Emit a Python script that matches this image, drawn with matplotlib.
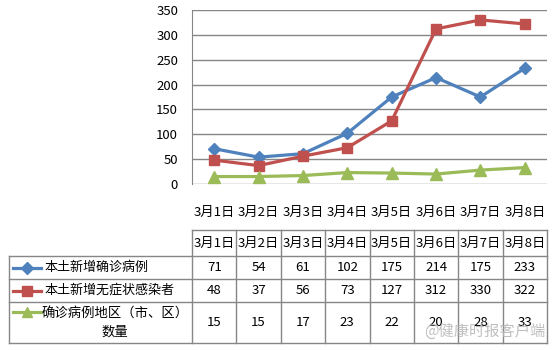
import matplotlib
matplotlib.use("Agg")
import matplotlib.pyplot as plt
from matplotlib.lines import Line2D

plt.rcParams['font.family'] = ['Noto Sans CJK SC', 'DejaVu Sans']

dates = ["3月1日", "3月2日", "3月3日", "3月4日", "3月5日", "3月6日", "3月7日", "3月8日"]
confirmed = [71, 54, 61, 102, 175, 214, 175, 233]
asymptomatic = [48, 37, 56, 73, 127, 312, 330, 322]
regions = [15, 15, 17, 23, 22, 20, 28, 33]
series_names = ["本土新增确诊病例", "本土新增无症状感染者", "确诊病例地区（市、区）\n数量"]

colors = ["#4F81BD", "#C0504D", "#9BBB59"]
markers = ["D", "s", "^"]
msizes = [6.5, 7.5, 8]
grid_c = "#868686"

W, H = 555, 350
fig = plt.figure(figsize=(W / 100, H / 100), dpi=100)

# plot area in pixels
x0, x1, y0, y1 = 192, 547, 10, 184
ax = fig.add_axes([x0 / W, 1 - y1 / H, (x1 - x0) / W, (y1 - y0) / H])
xs = range(len(dates))
for vals, c, m, ms in zip([confirmed, asymptomatic, regions], colors, markers, msizes):
    ax.plot(xs, vals, color=c, lw=2.3, marker=m, markersize=ms, zorder=3)
ax.set_xlim(-0.5, len(dates) - 0.5)
ax.set_ylim(0, 350)
ax.set_yticks(range(0, 351, 50))
ax.yaxis.grid(True, color=grid_c, lw=1)
ax.set_axisbelow(True)
ax.tick_params(axis="y", length=0, labelsize=9.5, pad=10)
ax.set_xticks(list(xs))
ax.set_xticklabels(dates, fontsize=9.5)
ax.tick_params(axis="x", length=0, pad=16)
for s in ["top", "right", "bottom"]:
    ax.spines[s].set_visible(False)
ax.spines["left"].set_color(grid_c)

# data table below the chart, drawn in pixel coordinates
tb = fig.add_axes([0, 0, 1, 1])
tb.set_xlim(0, W)
tb.set_ylim(H, 0)
tb.axis("off")
cw = (x1 - x0) / len(dates)
rows_y = [230, 256, 279, 302, 343]
tl = 9
lk = dict(color=grid_c, lw=1)
tb.plot([x0, x1], [rows_y[0]] * 2, **lk)
for yy in rows_y[1:]:
    tb.plot([tl, x1], [yy, yy], **lk)
tb.plot([tl, tl], [rows_y[1], rows_y[-1]], **lk)
for i in range(len(dates) + 1):
    xx = x0 + i * cw
    tb.plot([xx, xx], [rows_y[0], rows_y[-1]], **lk)
for i, d in enumerate(dates):
    tb.text(x0 + (i + 0.5) * cw, (rows_y[0] + rows_y[1]) / 2, d,
            ha="center", va="center", fontsize=9.5)

table_vals = [confirmed, asymptomatic, regions]
for r, (vals, name, c, m, ms) in enumerate(zip(table_vals, series_names, colors, markers, msizes)):
    ya, yb = rows_y[r + 1], rows_y[r + 2]
    ym = (ya + yb) / 2
    key_y = ym if r < 2 else ya + 10
    tb.add_line(Line2D([13, 41], [key_y, key_y], color=c, lw=2.3))
    tb.plot([27], [key_y], marker=m, color=c, markersize=ms - 0.5)
    if r < 2:
        tb.text(44, ym, name, ha="left", va="center", fontsize=9.4)
    else:
        tb.text(115, ym, name, ha="center", va="center", fontsize=9.6, linespacing=1.3)
    for i, v in enumerate(vals):
        tb.text(x0 + (i + 0.5) * cw, ym, str(v), ha="center", va="center", fontsize=9.5)

tb.text(545, 331, "@健康时报客户端", ha="right", va="center", fontsize=11,
        color="#b5b5b5", alpha=0.85)

fig.savefig("out.png", dpi=100, facecolor="white")
